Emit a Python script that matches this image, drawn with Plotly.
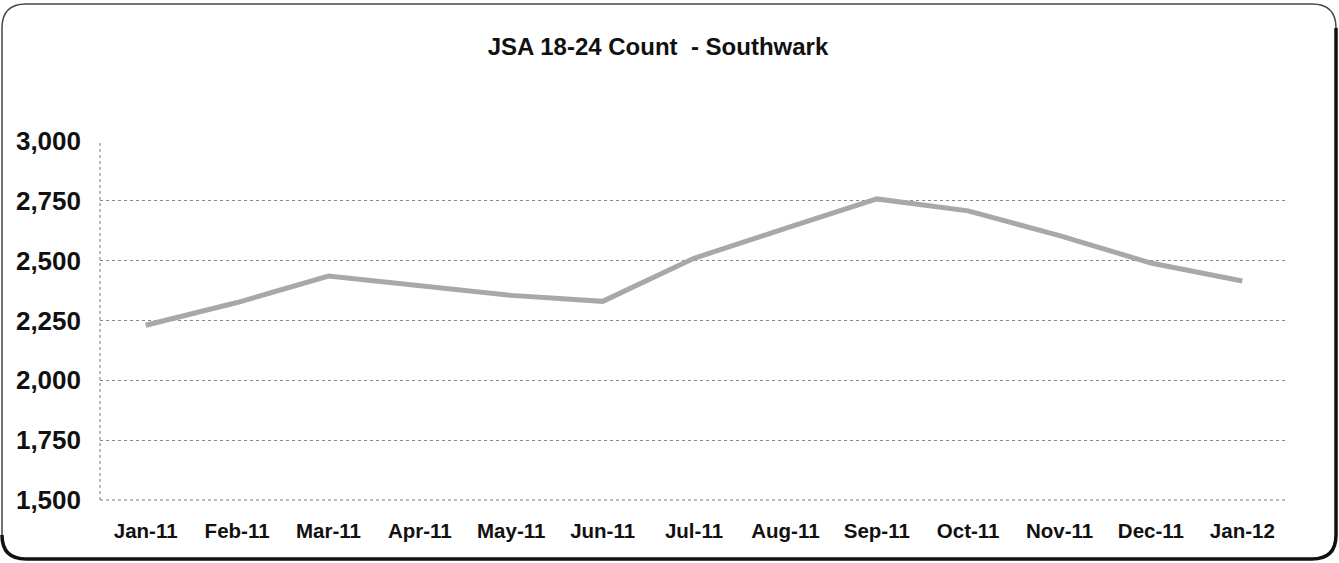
import plotly.graph_objects as go

months = ["Jan-11", "Feb-11", "Mar-11", "Apr-11", "May-11", "Jun-11", "Jul-11",
          "Aug-11", "Sep-11", "Oct-11", "Nov-11", "Dec-11", "Jan-12"]
jsa_count = [2230, 2325, 2436, 2395, 2355, 2330, 2510, 2635, 2758, 2708, 2605, 2490, 2415]
y_ticks = [1500, 1750, 2000, 2250, 2500, 2750, 3000]
y_tick_text = ["1,500", "1,750", "2,000", "2,250", "2,500", "2,750", "3,000"]

W, H = 1339, 563
L, R, T, B = 100, 51, 141, 63
pw, ph = W - L - R, H - T - B

def px(x):
    return (x - L) / pw

def py(y):
    return (H - B - y) / ph

fig = go.Figure()
fig.add_trace(go.Scatter(
    x=months, y=jsa_count, mode="lines",
    line=dict(color="#a8a8a8", width=5),
    hoverinfo="skip", showlegend=False,
))

# rounded border
x0, x1 = px(2), px(1336)
y0, y1 = py(559), py(4)
rx, ry = 24 / pw, 24 / ph
path = (f"M {x0+rx},{y1} L {x1-rx},{y1} Q {x1},{y1} {x1},{y1-ry} "
        f"L {x1},{y0+ry} Q {x1},{y0} {x1-rx},{y0} L {x0+rx},{y0} "
        f"Q {x0},{y0} {x0},{y0+ry} L {x0},{y1-ry} Q {x0},{y1} {x0+rx},{y1} Z")
fig.add_shape(type="path", path=path, xref="paper", yref="paper",
              line=dict(color="#444444", width=1.5), layer="below")
# heavier right / bottom edges
path2 = (f"M {x1},{y1-ry} L {x1},{y0+ry} Q {x1},{y0} {x1-rx},{y0} "
         f"L {x0+rx},{y0} Q {x0},{y0} {x0},{y0+ry}")
fig.add_shape(type="path", path=path2, xref="paper", yref="paper",
              line=dict(color="#111111", width=3.5), layer="below")
# dotted y axis line and baseline
fig.add_shape(type="line", xref="paper", yref="paper", x0=0, x1=0, y0=0, y1=1,
              line=dict(color="#777777", width=1, dash="dot"))
fig.add_shape(type="line", xref="paper", yref="paper", x0=0, x1=1, y0=0, y1=0,
              line=dict(color="#777777", width=1, dash="dot"))

fig.update_layout(
    width=W, height=H,
    margin=dict(l=L, r=R, t=T, b=B),
    paper_bgcolor="white", plot_bgcolor="white",
    font=dict(family="Liberation Sans, Arial, sans-serif", color="#111111"),
    title=dict(text="<b>JSA 18-24 Count  - Southwark</b>", x=658 / W, xanchor="center",
               y=1 - 47 / H, yanchor="middle", font=dict(size=24, color="#111111")),
    xaxis=dict(range=[-0.5, 12.5], showgrid=False, showline=False, ticks="",
               zeroline=False,
               tickfont=dict(size=20.5, color="#111111", weight="bold"),
               ticklabelstandoff=16, fixedrange=True),
    yaxis=dict(range=[1500, 3000], tickvals=y_ticks, ticktext=y_tick_text,
               showgrid=True, gridcolor="#888888", gridwidth=1, griddash="dot",
               zeroline=False, showline=False, ticks="",
               tickfont=dict(size=26, color="#111111", weight="bold"),
               ticklabelstandoff=18, fixedrange=True),
)

fig.write_html("out.html", config={"displayModeBar": False},
               post_script="document.body.style.margin='0';")
